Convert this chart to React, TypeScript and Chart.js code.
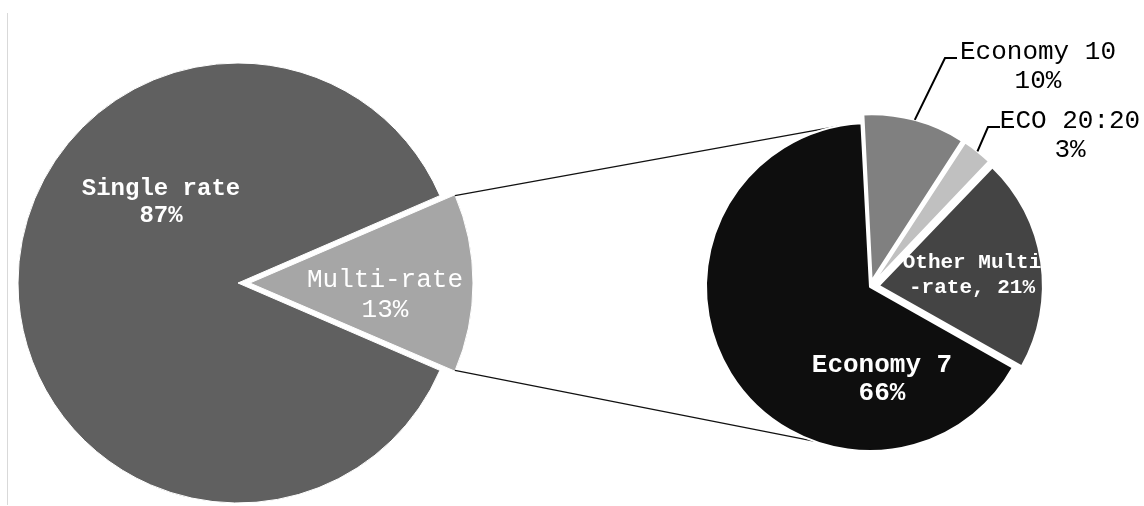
import { useEffect, useRef } from "react";
import { Chart, PieController, ArcElement } from "chart.js";
import type { Plugin } from "chart.js";

Chart.register(PieController, ArcElement);

// Overall split of tariffs
const mainCategories = ["Single rate", "Multi-rate"];
const mainValues = [87, 13];
const mainColors = ["#606060", "#a6a6a6"];

// Breakdown of the multi-rate share
const splitCategories = ["Economy 7", "Economy 10", "ECO 20:20", "Other Multi-rate"];
const splitValues = [66, 10, 3, 21];
const splitColors = ["#0e0e0e", "#808080", "#c0c0c0", "#444444"];

// Label lines shown for each slice
const mainLabelLines = [["Single rate", "87%"], ["Multi-rate", "13%"]];
const splitLabelLines = [["Economy 7", "66%"], ["Economy 10", "10%"], ["ECO 20:20", "3%"], ["Other Multi", "-rate, 21%"]];

const W = 1144;
const H = 506;
const FONT = '"Courier New", Courier, "Nimbus Mono PS", "Nimbus Mono L", FreeMono, "Liberation Mono", monospace';

type LabelStyle = {
  dx: number; // offset of the text block centre from the pie centre
  dy: number;
  size: number;
  bold: boolean;
  color: string;
  lineHeight: number;
  leader?: { elbow: [number, number]; end: [number, number] };
};

const mainLabelStyles: LabelStyle[] = [
  { dx: -77, dy: -81, size: 24, bold: true, color: "#ffffff", lineHeight: 27 },
  { dx: 147, dy: 12, size: 26, bold: false, color: "#ffffff", lineHeight: 30 },
];

const splitLabelStyles: LabelStyle[] = [
  { dx: 12, dy: 92, size: 26, bold: true, color: "#ffffff", lineHeight: 28 },
  { dx: 168, dy: -220, size: 26, bold: false, color: "#000000", lineHeight: 29, leader: { elbow: [75, -229], end: [87, -229] } },
  { dx: 200, dy: -151, size: 26, bold: false, color: "#000000", lineHeight: 29, leader: { elbow: [118, -160], end: [130, -160] } },
  { dx: 102, dy: -12, size: 21, bold: true, color: "#ffffff", lineHeight: 25 },
];

// Chart.js moves an exploded arc by offset/4 * (1 + fix) along its bisector,
// so invert that to get a given pixel shift.
function explodeOffset(share: number, px: number): number {
  const circ = share * Math.PI * 2;
  const fix = 1 - Math.sin(Math.min(Math.PI, circ));
  return (px * 4) / (1 + fix);
}
function explodeShift(share: number, offset: number): number {
  const circ = share * Math.PI * 2;
  const fix = 1 - Math.sin(Math.min(Math.PI, circ));
  return (offset / 4) * (1 + fix);
}

const sum = (a: number[]) => a.reduce((s, v) => s + v, 0);

function makeLabelPlugin(lines: string[][], styles: LabelStyle[], values: number[], offsets: number[]): Plugin<"pie"> {
  return {
    id: "sliceLabels",
    afterDraw(chart) {
      const ctx = chart.ctx;
      const meta = chart.getDatasetMeta(0);
      const total = sum(values);
      ctx.save();
      meta.data.forEach((el: any, i: number) => {
        const st = styles[i];
        const cx = el.x;
        const cy = el.y;
        if (st.leader) {
          const mid = (el.startAngle + el.endAngle) / 2;
          const shift = explodeShift(values[i] / total, offsets[i]);
          const r = el.outerRadius + shift;
          const sx = cx + Math.cos(mid) * r;
          const sy = cy + Math.sin(mid) * r;
          ctx.beginPath();
          ctx.strokeStyle = "#000000";
          ctx.lineWidth = 2;
          ctx.moveTo(sx, sy);
          ctx.lineTo(cx + st.leader.elbow[0], cy + st.leader.elbow[1]);
          ctx.lineTo(cx + st.leader.end[0], cy + st.leader.end[1]);
          ctx.stroke();
        }
        ctx.fillStyle = st.color;
        ctx.font = `${st.bold ? "bold " : ""}${st.size}px ${FONT}`;
        ctx.textAlign = "center";
        ctx.textBaseline = "middle";
        const ls = lines[i];
        const top = cy + st.dy - ((ls.length - 1) * st.lineHeight) / 2;
        ls.forEach((t, k) => ctx.fillText(t, cx + st.dx, top + k * st.lineHeight));
      });
      ctx.restore();
    },
  };
}

const mainOffsets = mainValues.map((v, i) => (i === 1 ? explodeOffset(v / sum(mainValues), 15) : 0));
const splitOffsets = splitValues.map((v, i) => (i === 0 ? 0 : explodeOffset(v / sum(splitValues), 9)));

export default function App() {
  const leftRef = useRef<HTMLCanvasElement>(null);
  const rightRef = useRef<HTMLCanvasElement>(null);

  useEffect(() => {
    const mainTotal = sum(mainValues);
    const splitTotal = sum(splitValues);

    const left = new Chart(leftRef.current!, {
      type: "pie",
      data: {
        labels: mainCategories,
        datasets: [
          {
            data: mainValues,
            backgroundColor: mainColors,
            borderColor: "#ffffff",
            borderWidth: 1,
            offset: mainOffsets,
            hoverOffset: 0,
          },
        ],
      },
      options: {
        responsive: false,
        animation: false,
        events: [],
        radius: 220,
        // centre the multi-rate slice on the right-hand side
        rotation: 90 + (mainValues[1] / mainTotal) * 180,
        layout: { padding: { left: 0, right: 668, top: 60, bottom: 0 } },
        plugins: { legend: { display: false }, tooltip: { enabled: false } },
      },
      plugins: [
        makeLabelPlugin(mainLabelLines, mainLabelStyles, mainValues, mainOffsets),
        {
          id: "frameLine",
          beforeDraw(chart) {
            const ctx = chart.ctx;
            ctx.save();
            ctx.strokeStyle = "#d9d9d9";
            ctx.lineWidth = 1;
            ctx.beginPath();
            ctx.moveTo(7.5, 13);
            ctx.lineTo(7.5, 505);
            ctx.stroke();
            ctx.restore();
          },
        },
      ],
    });

    // connector lines from the multi-rate slice to the breakdown pie
    const connectors: Plugin<"pie"> = {
      id: "connectors",
      beforeDraw(chart) {
        const lm = left.getDatasetMeta(0).data[1] as any;
        const rm = chart.getDatasetMeta(0).data[0] as any;
        const shift = explodeShift(mainValues[1] / mainTotal, mainOffsets[1]);
        const mid = (lm.startAngle + lm.endAngle) / 2;
        const ax = lm.x + Math.cos(mid) * shift;
        const ay = lm.y + Math.sin(mid) * shift;
        const r = lm.outerRadius;
        const p1 = [ax + Math.cos(lm.startAngle) * r, ay + Math.sin(lm.startAngle) * r];
        const p2 = [ax + Math.cos(lm.endAngle) * r, ay + Math.sin(lm.endAngle) * r];
        const R = rm.outerRadius;
        const topA = (-101.5 * Math.PI) / 180;
        const botA = (110 * Math.PI) / 180;
        const q1 = [rm.x + Math.cos(topA) * R, rm.y + Math.sin(topA) * R];
        const q2 = [rm.x + Math.cos(botA) * R, rm.y + Math.sin(botA) * R];
        const ctx = chart.ctx;
        ctx.save();
        ctx.strokeStyle = "#111111";
        ctx.lineWidth = 1.2;
        ctx.beginPath();
        ctx.moveTo(p1[0], p1[1]);
        ctx.lineTo(q1[0], q1[1]);
        ctx.moveTo(p2[0], p2[1]);
        ctx.lineTo(q2[0], q2[1]);
        ctx.stroke();
        ctx.restore();
      },
    };

    const right = new Chart(rightRef.current!, {
      type: "pie",
      data: {
        labels: splitCategories,
        datasets: [
          {
            data: splitValues,
            backgroundColor: splitColors,
            borderColor: "#ffffff",
            borderWidth: 2,
            offset: splitOffsets,
            hoverOffset: 0,
          },
        ],
      },
      options: {
        responsive: false,
        animation: false,
        events: [],
        radius: 164,
        // Economy 7 ends just left of the top; the other slices follow clockwise
        rotation: -(splitValues[0] / splitTotal) * 360 - 3,
        layout: { padding: { left: 596, right: 0, top: 68, bottom: 0 } },
        plugins: { legend: { display: false }, tooltip: { enabled: false } },
      },
      plugins: [connectors, makeLabelPlugin(splitLabelLines, splitLabelStyles, splitValues, splitOffsets)],
    });

    return () => {
      right.destroy();
      left.destroy();
    };
  }, []);

  return (
    <div style={{ position: "absolute", left: 0, top: 0, width: W, height: H, background: "#ffffff" }}>
      <canvas ref={leftRef} width={W} height={H} style={{ position: "absolute", left: 0, top: 0 }} />
      <canvas ref={rightRef} width={W} height={H} style={{ position: "absolute", left: 0, top: 0 }} />
    </div>
  );
}
